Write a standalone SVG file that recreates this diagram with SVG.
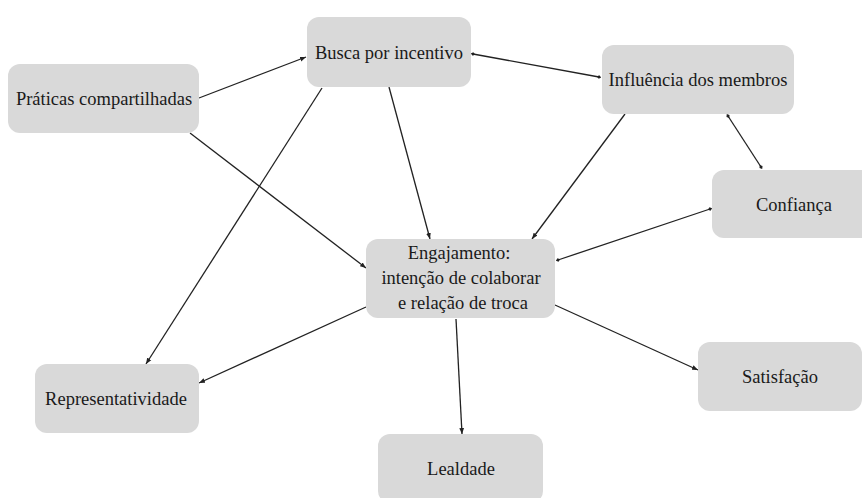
<svg xmlns="http://www.w3.org/2000/svg" width="862" height="498" viewBox="0 0 862 498">
<defs>
<style>
.box{fill:#d9d9d9;stroke:none}
.lbl{font-family:'Liberation Serif','DejaVu Serif',serif;font-size:18.5px;fill:#1a1a1a;text-anchor:middle}
.edge{stroke:#222;stroke-width:1.3;fill:none}
.one{marker-end:url(#arr)}
.two{marker-start:url(#dot);marker-end:url(#dot)}
</style>
<marker id="arr" viewBox="0 0 10 10" refX="10" refY="5" markerWidth="6" markerHeight="6" markerUnits="userSpaceOnUse" orient="auto">
<path d="M0,1 L10,5 L0,9 z" fill="#222"/>
</marker>
<marker id="dot" viewBox="0 0 10 10" refX="5" refY="5" markerWidth="4.5" markerHeight="4.5" markerUnits="userSpaceOnUse" orient="auto">
<path d="M0,5 L5,1 L10,5 L5,9 z" fill="#222"/>
</marker>
</defs>
<rect width="862" height="498" fill="#ffffff"/>
<g id="connectors">
<line class="edge one" x1="199" y1="98" x2="306" y2="57"/>
<line class="edge one" x1="190" y1="133" x2="366" y2="268"/>
<line class="edge one" x1="322" y1="88" x2="146" y2="364"/>
<line class="edge one" x1="389" y1="87" x2="430" y2="239"/>
<line class="edge two" x1="473" y1="54" x2="599" y2="77"/>
<line class="edge one" x1="625" y1="114" x2="532" y2="239"/>
<line class="edge two" x1="728" y1="116" x2="761" y2="167"/>
<line class="edge two" x1="710" y1="209" x2="558" y2="260"/>
<line class="edge one" x1="366" y1="307" x2="199" y2="383"/>
<line class="edge one" x1="456" y1="319" x2="462" y2="434"/>
<line class="edge one" x1="555" y1="305" x2="698" y2="370"/>
</g>
<g id="praticas">
<rect class="box" x="8" y="64" width="191" height="69" rx="12"/>
<text class="lbl" font-family="Liberation Serif, serif" x="104" y="105">Práticas compartilhadas</text>
</g>
<g id="busca">
<rect class="box" x="307" y="17" width="164" height="70" rx="12"/>
<text class="lbl" font-family="Liberation Serif, serif" x="389" y="59">Busca por incentivo</text>
</g>
<g id="influencia">
<rect class="box" x="602" y="45" width="192" height="69" rx="12"/>
<text class="lbl" font-family="Liberation Serif, serif" x="698" y="86">Influência dos membros</text>
</g>
<g id="confianca">
<rect class="box" x="712" y="170" width="165" height="68" rx="12"/>
<text class="lbl" font-family="Liberation Serif, serif" x="794" y="211">Confiança</text>
</g>
<g id="engajamento">
<rect class="box" x="366" y="239" width="189" height="79" rx="12"/>
<text class="lbl" font-family="Liberation Serif, serif" x="459" y="259">Engajamento:</text>
<text class="lbl" font-family="Liberation Serif, serif" x="461" y="284">intenção de colaborar</text>
<text class="lbl" font-family="Liberation Serif, serif" x="463" y="309">e relação de troca</text>
</g>
<g id="representatividade">
<rect class="box" x="35" y="364" width="164" height="69" rx="12"/>
<text class="lbl" font-family="Liberation Serif, serif" x="116" y="405">Representatividade</text>
</g>
<g id="lealdade">
<rect class="box" x="378" y="434" width="165" height="69" rx="12"/>
<text class="lbl" font-family="Liberation Serif, serif" x="461" y="475">Lealdade</text>
</g>
<g id="satisfacao">
<rect class="box" x="698" y="342" width="164" height="69" rx="12"/>
<text class="lbl" font-family="Liberation Serif, serif" x="780" y="383">Satisfação</text>
</g>
</svg>
